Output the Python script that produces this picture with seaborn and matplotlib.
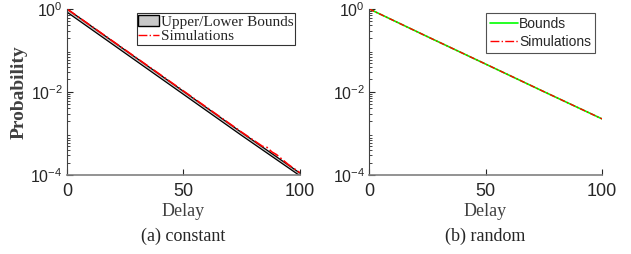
import numpy as np
import pandas as pd
import seaborn as sns
import matplotlib
matplotlib.use("Agg")
import matplotlib.pyplot as plt
from matplotlib.patches import Patch
from matplotlib.lines import Line2D

sns.set_style("ticks")

# data
delay = [0, 25, 50, 75, 100]
const_upper = [1.0, 0.102, 0.0104, 0.00106, 0.000112]
const_lower = [0.84, 0.086, 0.0088, 0.0009, 0.0000965]
const_sim_x = [0, 25, 50, 75, 84, 86, 88, 90, 92, 95, 100]
const_sim = [1.0, 0.103, 0.0106, 0.00108, 0.00049, 0.00046, 0.00036, 0.00031, 0.00025, 0.00018, 0.000114]
rand_bounds = [1.0, 0.215, 0.047, 0.0102, 0.00225]
rand_sim = [1.0, 0.215, 0.047, 0.0102, 0.00225]

serif = "Liberation Serif"
sans = "Liberation Sans"

fig = plt.figure(figsize=(6.31, 2.54), dpi=100)
ax1 = fig.add_axes([0.106, 0.311, 0.369, 0.654])
ax2 = fig.add_axes([0.585, 0.311, 0.369, 0.654])

# (a)
ax1.fill_between(delay, const_lower, const_upper, color="#c8c8c8", linewidth=0)
sns.lineplot(x=delay, y=const_upper, ax=ax1, color="black", linewidth=0.9)
sns.lineplot(x=delay, y=const_lower, ax=ax1, color="black", linewidth=0.9)
sns.lineplot(x=const_sim_x, y=const_sim, ax=ax1, color="red", linewidth=1.2, linestyle="-.")

# (b)
sns.lineplot(x=delay, y=rand_bounds, ax=ax2, color="#00ff00", linewidth=1.2)
sns.lineplot(x=delay, y=rand_sim, ax=ax2, color="red", linewidth=1.0, linestyle=(0, (4, 1.5, 1, 1.5)))

for ax in (ax1, ax2):
    ax.set_yscale("log")
    ax.set_xlim(0, 100)
    ax.set_ylim(1e-4, 1)
    ax.set_xticks([0, 50, 100])
    ax.set_yticks([1e-4, 1e-2, 1])
    ax.tick_params(axis="both", which="both", direction="in", colors="#262626")
    ax.tick_params(axis="x", pad=6, labelsize=13)
    ax.tick_params(axis="y", pad=3, labelsize=11.5)
    ax.tick_params(which="major", length=4)
    ax.tick_params(which="minor", length=2)
    for lab in ax.get_xticklabels() + ax.get_yticklabels():
        lab.set_fontfamily(sans)
    ax.spines["top"].set_visible(False)
    ax.spines["right"].set_visible(False)
    ax.spines["left"].set_color("#404040")
    ax.spines["bottom"].set_color("#808080")
    ax.spines["bottom"].set_linewidth(1.2)
    ax.set_xlabel("Delay", fontfamily=serif, fontsize=13, color="#404040", labelpad=2)
    ax.set_facecolor("white")

ax1.set_ylabel("Probability", fontfamily=serif, fontsize=14, fontweight="bold", color="#404040")
ax1.yaxis.set_label_coords(-0.17, 0.5)
ax2.set_ylabel("")

h1 = [Patch(facecolor="#c8c8c8", edgecolor="black", linewidth=1.0),
      Line2D([], [], color="red", linestyle="-.", linewidth=1.0)]
leg1 = ax1.legend(h1, ["Upper/Lower Bounds", "Simulations"], loc="upper right",
                  prop={"family": serif, "size": 11}, frameon=True, fancybox=False,
                  edgecolor="black", borderpad=0.1, handlelength=1.4, handletextpad=0.1,
                  labelspacing=0.05, borderaxespad=0.3, bbox_to_anchor=(1.0, 1.0))
leg1.get_frame().set_linewidth(0.8)

h2 = [Line2D([], [], color="#00ff00", linewidth=1.2),
      Line2D([], [], color="red", linestyle="-.", linewidth=1.0)]
leg2 = ax2.legend(h2, ["Bounds", "Simulations"], loc="upper right",
                  prop={"family": sans, "size": 10}, frameon=True, fancybox=False,
                  edgecolor="#262626", borderpad=0.3, handlelength=2.0, handletextpad=0.1,
                  labelspacing=0.25, borderaxespad=0.3, bbox_to_anchor=(0.99, 1.0))
leg2.get_frame().set_linewidth(0.8)

fig.text(0.29, 0.05, "(a) constant", ha="center", fontfamily=serif, fontsize=13)
fig.text(0.769, 0.05, "(b) random", ha="center", fontfamily=serif, fontsize=13)

fig.savefig("out.png", dpi=100, facecolor="white")
